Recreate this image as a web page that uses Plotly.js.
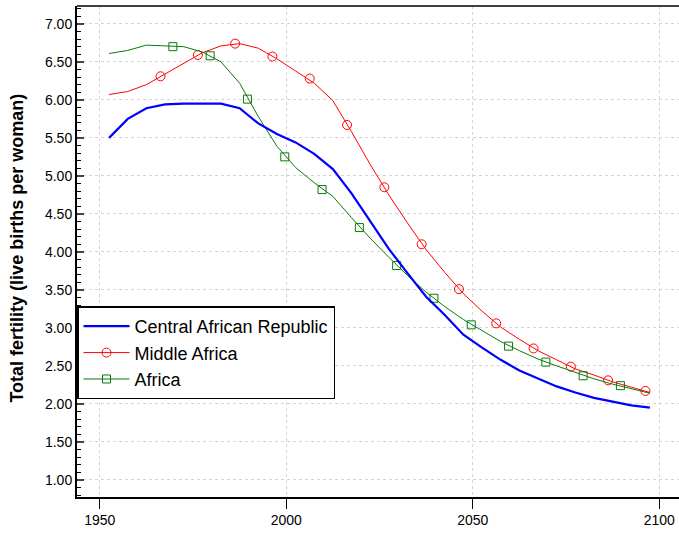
<!DOCTYPE html>
<html>
<head>
<meta charset="utf-8">
<script src="https://cdn.plot.ly/plotly-3.0.1.min.js"></script>
<style>html,body{margin:0;padding:0;background:#fff;}#chart{width:679px;height:535px;}</style>
</head>
<body>
<div id="chart"></div>
<script>
// Period midpoints (5-year periods)
const years = [1952.5,1957.5,1962.5,1967.5,1972.5,1977.5,1982.5,1987.5,1992.5,1997.5,
  2002.5,2007.5,2012.5,2017.5,2022.5,2027.5,2032.5,2037.5,2042.5,2047.5,
  2052.5,2057.5,2062.5,2067.5,2072.5,2077.5,2082.5,2087.5,2092.5,2097.5];

const carTFR = [5.50,5.75,5.89,5.94,5.95,5.95,5.95,5.89,5.69,5.55,
  5.44,5.29,5.09,4.77,4.41,4.04,3.72,3.41,3.17,2.91,
  2.74,2.58,2.44,2.33,2.23,2.15,2.08,2.03,1.98,1.95];

const middleAfricaTFR = [6.07,6.11,6.20,6.34,6.47,6.62,6.71,6.74,6.68,6.54,
  6.38,6.22,5.99,5.58,5.15,4.75,4.38,4.03,3.73,3.45,
  3.22,3.01,2.85,2.70,2.58,2.46,2.38,2.29,2.22,2.15];

const africaTFR = [6.61,6.65,6.72,6.71,6.70,6.63,6.50,6.22,5.78,5.39,
  5.11,4.91,4.73,4.45,4.18,3.93,3.69,3.47,3.28,3.11,
  2.96,2.82,2.70,2.59,2.50,2.41,2.33,2.26,2.20,2.14];

// Marker positions as drawn in the reference
const middleAfricaMarkX = [1966.3,1976.3,1986.3,1996.3,2006.3,2016.3,2026.3,2036.3,2046.3,2056.3,2066.3,2076.3,2086.3,2096.3];
const middleAfricaMarkY = [6.31,6.59,6.74,6.57,6.28,5.67,4.85,4.10,3.51,3.06,2.73,2.49,2.31,2.17];
const africaMarkX = [1969.6,1979.6,1989.6,1999.6,2009.6,2019.6,2029.6,2039.6,2049.6,2059.6,2069.6,2079.6,2089.6];
const africaMarkY = [6.70,6.58,6.01,5.25,4.82,4.32,3.82,3.39,3.04,2.76,2.55,2.37,2.24];

const seriesNames = ['Central African Republic','Middle Africa','Africa'];
const yTickVals = [1.00,1.50,2.00,2.50,3.00,3.50,4.00,4.50,5.00,5.50,6.00,6.50,7.00];
const xTickVals = [1950,2000,2050,2100];
const yTitle = 'Total fertility (live births per woman)';

const RED = '#ff0000', GREEN = '#0a7a0a', BLUE = '#0000ff';

const traces = [
  {x: years, y: middleAfricaTFR, mode:'lines', line:{color:RED, width:1}, showlegend:false, hoverinfo:'skip'},
  {x: middleAfricaMarkX, y: middleAfricaMarkY, mode:'markers', marker:{symbol:'circle-open', size:9, color:RED, line:{width:1}}, showlegend:false, hoverinfo:'skip'},
  {x: years, y: africaTFR, mode:'lines', line:{color:GREEN, width:1}, showlegend:false, hoverinfo:'skip'},
  {x: africaMarkX, y: africaMarkY, mode:'markers', marker:{symbol:'square-open', size:8, color:GREEN, line:{width:1}}, showlegend:false, hoverinfo:'skip'},
  {x: years, y: carTFR, mode:'lines', line:{color:BLUE, width:2.2}, name: seriesNames[0], legendrank:1},
  {x:[null], y:[null], mode:'lines+markers', line:{color:RED, width:1}, marker:{symbol:'circle-open', size:9, color:RED, line:{width:1}}, name: seriesNames[1], legendrank:2},
  {x:[null], y:[null], mode:'lines+markers', line:{color:GREEN, width:1}, marker:{symbol:'square-open', size:8, color:GREEN, line:{width:1}}, name: seriesNames[2], legendrank:3}
];

const fontFam = '"Liberation Sans", Arial, sans-serif';
const layout = {
  width:679, height:535,
  margin:{l:77, r:0, t:6, b:38},
  paper_bgcolor:'#fff', plot_bgcolor:'#fff',
  font:{family:fontFam, color:'#000', size:14},
  xaxis:{
    range:[1943.9, 2105.3], tickvals:xTickVals, ticktext:xTickVals.map(String),
    showgrid:true, gridcolor:'#d4d4d4', griddash:'dot', gridwidth:1,
    zeroline:false, showline:true, linecolor:'#000', linewidth:1.5,
    ticks:'outside', ticklen:10, tickwidth:1, tickcolor:'#000',
    tickfont:{size:14, family:fontFam}
  },
  yaxis:{
    range:[0.775, 7.235], tickvals:yTickVals, ticktext:yTickVals.map(v=>v.toFixed(2)),
    showgrid:true, gridcolor:'#d4d4d4', griddash:'dot', gridwidth:1,
    zeroline:false, showline:true, linecolor:'#000', linewidth:2,
    ticks:'inside', ticklen:7, tickwidth:2, tickcolor:'#444',
    minor:{dtick:0.1, tick0:0, ticks:'inside', ticklen:4, tickwidth:1, tickcolor:'#000', showgrid:false},
    tickfont:{size:14, family:fontFam}
  },
  annotations:[{
    text:'<b>'+yTitle+'</b>', xref:'paper', yref:'paper', x:-0.0997, y:0.508,
    xanchor:'center', yanchor:'middle', textangle:-90, showarrow:false,
    font:{size:18, family:fontFam, color:'#000'}
  }],
  shapes:[{type:'line', xref:'paper', yref:'paper', x0:0, x1:1, y0:1, y1:1, line:{color:'#404040', width:2}}],
  legend:{
    x:0, y:0.388, xanchor:'left', yanchor:'top',
    bgcolor:'#fff', bordercolor:'#000', borderwidth:1.5,
    font:{size:18, family:fontFam}, itemwidth:46, tracegroupgap:0
  },
  showlegend:true
};

Plotly.newPlot('chart', traces, layout, {staticPlot:true, displayModeBar:false});
</script>
</body>
</html>
